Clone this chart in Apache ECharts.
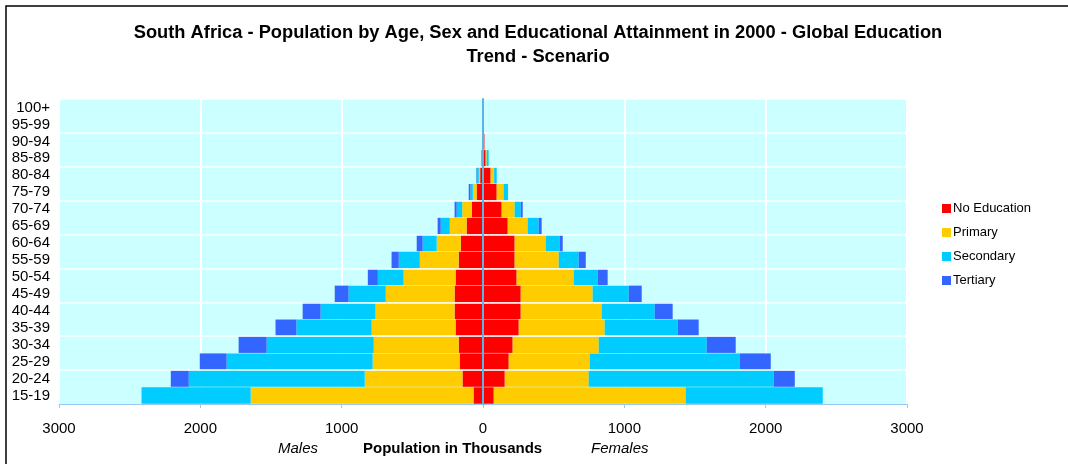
<!DOCTYPE html>
<html>
<head>
<meta charset="utf-8">
<script src="https://cdn.jsdelivr.net/npm/echarts@6/dist/echarts.min.js"></script>
<style>
  html, body { margin: 0; padding: 0; background: #fff; }
  #pyramid { width: 1068px; height: 464px; }
</style>
</head>
<body>
<div id="pyramid"></div>
<script>
// age groups, bottom to top
var ageGroups = ['15-19', '20-24', '25-29', '30-34', '35-39', '40-44', '45-49', '50-54', '55-59',
  '60-64', '65-69', '70-74', '75-79', '80-84', '85-89', '90-94', '95-99', '100+'];
var xTicks = [-3000, 3000, 1000]; // min, max, step

// thousands of people, same order as ageGroups
var maleNoEducation = [67, 145, 165, 172, 194, 201, 201, 194, 172, 157, 116, 79, 45, 20, 9, 2, 0, 0];
var malePrimary     = [1577, 692, 616, 601, 594, 560, 487, 368, 275, 171, 119, 68, 27, 10, 2, 0, 0, 0];
var maleSecondary   = [772, 1245, 1033, 758, 532, 388, 263, 182, 149, 99, 64, 39, 17, 15, 2, 0, 0, 0];
var maleTertiary    = [0, 127, 190, 198, 148, 127, 98, 71, 51, 42, 22, 15, 12, 3, 1, 0, 0, 0];

var femaleNoEducation = [76, 154, 182, 210, 253, 267, 267, 238, 224, 224, 175, 132, 97, 54, 19, 10, 0, 0];
var femalePrimary     = [1358, 594, 573, 609, 608, 573, 509, 404, 312, 220, 141, 92, 49, 25, 7, 0, 0, 0];
var femaleSecondary   = [970, 1309, 1061, 764, 517, 375, 255, 170, 141, 99, 78, 43, 29, 18, 14, 0, 0, 0];
var femaleTertiary    = [0, 149, 220, 205, 148, 127, 92, 70, 50, 21, 21, 14, 2, 0, 0, 0, 0, 0];

var levels = ['No Education', 'Primary', 'Secondary', 'Tertiary'];
var levelColors = ['#ff0000', '#ffcc00', '#00ccff', '#3366ff'];

var maleSets = [maleNoEducation, malePrimary, maleSecondary, maleTertiary];
var femaleSets = [femaleNoEducation, femalePrimary, femaleSecondary, femaleTertiary];

function barSeries(name, color, values) {
  return {
    name: name,
    type: 'bar',
    stack: 'pyramid',
    barCategoryGap: '3%',
    itemStyle: { color: color },
    silent: true,
    data: values
  };
}

var series = [];
levels.forEach(function (lv, i) {
  series.push(barSeries(lv, levelColors[i], maleSets[i].map(function (v) { return -v; })));
});
levels.forEach(function (lv, i) {
  series.push(barSeries(lv, levelColors[i], femaleSets[i]));
});

var font = 'Arial, "Liberation Sans", sans-serif';
var chart = echarts.init(document.getElementById('pyramid'), null, { renderer: 'canvas' });
chart.setOption({
  animation: false,
  textStyle: { fontFamily: font },
  title: {
    text: 'South Africa - Population by Age, Sex and Educational Attainment in 2000 - Global Education\nTrend - Scenario',
    left: 538,
    textAlign: 'center',
    top: 21,
    padding: 0,
    textStyle: { fontSize: 18.3, fontWeight: 'bold', color: '#000', lineHeight: 24, fontFamily: font }
  },
  legend: {
    data: levels,
    orient: 'vertical',
    left: 937,
    top: 197,
    itemWidth: 9,
    itemHeight: 9,
    itemGap: 11,
    icon: 'rect',
    textStyle: { fontSize: 13, color: '#000', padding: [0, 0, 0, -3] },
    selectedMode: false
  },
  grid: {
    left: 59,
    right: 161,
    top: 99,
    bottom: 60,
    show: true,
    backgroundColor: '#ccffff',
    borderWidth: 0
  },
  xAxis: {
    type: 'value',
    min: xTicks[0],
    max: xTicks[1],
    interval: xTicks[2],
    axisLine: { show: true, lineStyle: { color: '#99c9f2', width: 1 } },
    axisTick: { show: true, length: 4, lineStyle: { color: '#99c9f2' } },
    axisLabel: {
      fontSize: 15, color: '#000', margin: 17,
      formatter: function (v) { return Math.abs(v); }
    },
    splitLine: { show: true, lineStyle: { color: '#ffffff', width: 2 } }
  },
  yAxis: {
    type: 'category',
    data: ageGroups,
    z: 3,
    axisLine: { show: true, onZero: true, lineStyle: { color: '#5fb2e8', width: 2 } },
    axisTick: { show: false },
    axisLabel: { fontSize: 15, color: '#000', margin: 9, interval: 0 },
    splitLine: {
      show: true,
      interval: function (i) { return i > 0 && i % 2 === 0; },
      lineStyle: { color: '#ffffff', width: 1.5 }
    }
  },
  graphic: [
    { type: 'polyline', shape: { points: [[6, 470], [6, 6], [1075, 6]] }, style: { fill: 'none', stroke: '#000', lineWidth: 1.5 }, silent: true },
    { type: 'text', left: 278, top: 441, style: { text: 'Males', font: 'italic 15px ' + font, fill: '#000' } },
    { type: 'text', left: 363, top: 441, style: { text: 'Population in Thousands', font: 'bold 15px ' + font, fill: '#000' } },
    { type: 'text', left: 591, top: 441, style: { text: 'Females', font: 'italic 15px ' + font, fill: '#000' } }
  ],
  series: series
});
</script>
</body>
</html>
